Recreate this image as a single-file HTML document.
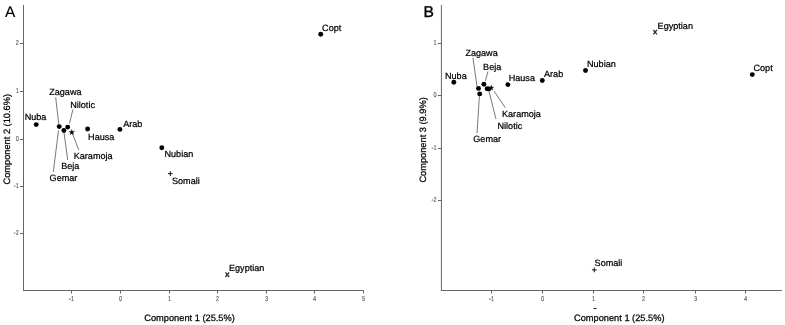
<!DOCTYPE html>
<html><head><meta charset="utf-8"><style>
html,body{margin:0;padding:0;background:#fff;}
svg{display:block;}
#w{width:785px;height:325px;filter:grayscale(1);}
text{font-family:"Liberation Sans",sans-serif;text-rendering:geometricPrecision;}
</style></head><body>
<div id="w"><svg width="785" height="325" viewBox="0 0 785 325">
<rect width="785" height="325" fill="#fff"/>
<line x1="23.5" y1="5" x2="23.5" y2="291.0" stroke="#666666" stroke-width="1.0"/>
<line x1="23.0" y1="290.5" x2="363.6" y2="290.5" stroke="#666666" stroke-width="1.0"/>
<line x1="20" y1="43.5" x2="23.5" y2="43.5" stroke="#666666" stroke-width="1.0"/>
<text x="0" y="0" font-size="7.0" fill="#5c5c5c" stroke="#5c5c5c" stroke-width="0.15" text-anchor="end" transform="translate(18.8,45.4) scale(0.8,1)">2</text>
<line x1="20" y1="91.5" x2="23.5" y2="91.5" stroke="#666666" stroke-width="1.0"/>
<text x="0" y="0" font-size="7.0" fill="#5c5c5c" stroke="#5c5c5c" stroke-width="0.15" text-anchor="end" transform="translate(18.8,93.4) scale(0.8,1)">1</text>
<line x1="20" y1="139.5" x2="23.5" y2="139.5" stroke="#666666" stroke-width="1.0"/>
<text x="0" y="0" font-size="7.0" fill="#5c5c5c" stroke="#5c5c5c" stroke-width="0.15" text-anchor="end" transform="translate(18.8,141.4) scale(0.8,1)">0</text>
<line x1="20" y1="186.5" x2="23.5" y2="186.5" stroke="#666666" stroke-width="1.0"/>
<text x="0" y="0" font-size="7.0" fill="#5c5c5c" stroke="#5c5c5c" stroke-width="0.15" text-anchor="end" transform="translate(18.8,188.4) scale(0.8,1)">-1</text>
<line x1="20" y1="233.5" x2="23.5" y2="233.5" stroke="#666666" stroke-width="1.0"/>
<text x="0" y="0" font-size="7.0" fill="#5c5c5c" stroke="#5c5c5c" stroke-width="0.15" text-anchor="end" transform="translate(18.8,235.4) scale(0.8,1)">-2</text>
<line x1="71.5" y1="290.5" x2="71.5" y2="293.6" stroke="#666666" stroke-width="1.0"/>
<text x="0" y="0" font-size="7.0" fill="#5c5c5c" stroke="#5c5c5c" stroke-width="0.15" text-anchor="middle" transform="translate(71.5,300.7) scale(0.8,1)">-1</text>
<line x1="120.5" y1="290.5" x2="120.5" y2="293.6" stroke="#666666" stroke-width="1.0"/>
<text x="0" y="0" font-size="7.0" fill="#5c5c5c" stroke="#5c5c5c" stroke-width="0.15" text-anchor="middle" transform="translate(120.5,300.7) scale(0.8,1)">0</text>
<line x1="169.5" y1="290.5" x2="169.5" y2="293.6" stroke="#666666" stroke-width="1.0"/>
<text x="0" y="0" font-size="7.0" fill="#5c5c5c" stroke="#5c5c5c" stroke-width="0.15" text-anchor="middle" transform="translate(169.5,300.7) scale(0.8,1)">1</text>
<line x1="217.5" y1="290.5" x2="217.5" y2="293.6" stroke="#666666" stroke-width="1.0"/>
<text x="0" y="0" font-size="7.0" fill="#5c5c5c" stroke="#5c5c5c" stroke-width="0.15" text-anchor="middle" transform="translate(217.5,300.7) scale(0.8,1)">2</text>
<line x1="266.5" y1="290.5" x2="266.5" y2="293.6" stroke="#666666" stroke-width="1.0"/>
<text x="0" y="0" font-size="7.0" fill="#5c5c5c" stroke="#5c5c5c" stroke-width="0.15" text-anchor="middle" transform="translate(266.5,300.7) scale(0.8,1)">3</text>
<line x1="314.5" y1="290.5" x2="314.5" y2="293.6" stroke="#666666" stroke-width="1.0"/>
<text x="0" y="0" font-size="7.0" fill="#5c5c5c" stroke="#5c5c5c" stroke-width="0.15" text-anchor="middle" transform="translate(314.5,300.7) scale(0.8,1)">4</text>
<line x1="363.5" y1="290.5" x2="363.5" y2="293.6" stroke="#666666" stroke-width="1.0"/>
<text x="0" y="0" font-size="7.0" fill="#5c5c5c" stroke="#5c5c5c" stroke-width="0.15" text-anchor="middle" transform="translate(363.5,300.7) scale(0.8,1)">5</text>
<text x="4.9" y="17.0" font-size="15.4" fill="#000" stroke="#000" stroke-width="0.12" text-anchor="start" >A</text>
<text x="144.3" y="321" font-size="9.25" fill="#000" stroke="#000" stroke-width="0.25" text-anchor="start" >Component 1 (25.5%)</text>
<text x="0" y="0" font-size="9.25" fill="#000" stroke="#000" stroke-width="0.25" transform="translate(9.8,184.5) rotate(-90)">Component 2 (10.6%)</text>
<circle cx="36.2" cy="124.6" r="2.45" fill="#000"/>
<text x="24.7" y="120.4" font-size="9.1" fill="#000" stroke="#000" stroke-width="0.22" text-anchor="start" >Nuba</text>
<line x1="55.7" y1="97.5" x2="58.8" y2="124.5" stroke="#555" stroke-width="0.8"/>
<text x="49.2" y="95.1" font-size="9.1" fill="#000" stroke="#000" stroke-width="0.22" text-anchor="start" >Zagawa</text>
<line x1="72.9" y1="109.5" x2="69.5" y2="123.6" stroke="#555" stroke-width="0.8"/>
<text x="70.2" y="107.5" font-size="9.1" fill="#000" stroke="#000" stroke-width="0.22" text-anchor="start" >Nilotic</text>
<line x1="58.5" y1="130.5" x2="53.3" y2="172" stroke="#555" stroke-width="0.8"/>
<text x="49.6" y="181.4" font-size="9.1" fill="#000" stroke="#000" stroke-width="0.22" text-anchor="start" >Gemar</text>
<line x1="64" y1="132.4" x2="67.7" y2="160" stroke="#555" stroke-width="0.8"/>
<text x="61.2" y="168.8" font-size="9.1" fill="#000" stroke="#000" stroke-width="0.22" text-anchor="start" >Beja</text>
<line x1="72.3" y1="133.3" x2="78.8" y2="150" stroke="#555" stroke-width="0.8"/>
<text x="73.7" y="158.8" font-size="9.1" fill="#000" stroke="#000" stroke-width="0.22" text-anchor="start" >Karamoja</text>
<circle cx="59.2" cy="126.6" r="2.45" fill="#000"/>
<circle cx="63.9" cy="130.5" r="2.45" fill="#000"/>
<circle cx="67.7" cy="127.1" r="2.45" fill="#000"/>
<polygon points="71.80,128.90 72.65,131.13 75.03,131.25 73.18,132.75 73.80,135.05 71.80,133.75 69.80,135.05 70.42,132.75 68.57,131.25 70.95,131.13" fill="#111"/>
<circle cx="87.6" cy="129" r="2.45" fill="#000"/>
<text x="88.1" y="140.3" font-size="9.1" fill="#000" stroke="#000" stroke-width="0.22" text-anchor="start" >Hausa</text>
<circle cx="119.9" cy="129.4" r="2.45" fill="#000"/>
<text x="123.2" y="127.4" font-size="9.1" fill="#000" stroke="#000" stroke-width="0.22" text-anchor="start" >Arab</text>
<circle cx="161.8" cy="147.7" r="2.45" fill="#000"/>
<text x="164.5" y="157.4" font-size="9.1" fill="#000" stroke="#000" stroke-width="0.22" text-anchor="start" >Nubian</text>
<line x1="167.9" y1="173.6" x2="172.70000000000002" y2="173.6" stroke="#1a1a1a" stroke-width="1.05"/>
<line x1="170.3" y1="171.2" x2="170.3" y2="176.0" stroke="#1a1a1a" stroke-width="1.05"/>
<text x="172" y="183.6" font-size="9.1" fill="#000" stroke="#000" stroke-width="0.22" text-anchor="start" >Somali</text>
<circle cx="320.7" cy="34.2" r="2.45" fill="#000"/>
<text x="322.1" y="30.5" font-size="9.1" fill="#000" stroke="#000" stroke-width="0.22" text-anchor="start" >Copt</text>
<line x1="225.5" y1="272.4" x2="229.10000000000002" y2="277.0" stroke="#2a2a2a" stroke-width="1.25"/>
<line x1="225.5" y1="277.0" x2="229.10000000000002" y2="272.4" stroke="#2a2a2a" stroke-width="1.25"/>
<text x="229" y="270.6" font-size="9.1" fill="#000" stroke="#000" stroke-width="0.22" text-anchor="start" >Egyptian</text>
<line x1="441.4" y1="5" x2="441.4" y2="291.0" stroke="#666666" stroke-width="1.0"/>
<line x1="440.9" y1="290.5" x2="782" y2="290.5" stroke="#666666" stroke-width="1.0"/>
<line x1="437.8" y1="43.5" x2="441.4" y2="43.5" stroke="#666666" stroke-width="1.0"/>
<text x="0" y="0" font-size="7.0" fill="#5c5c5c" stroke="#5c5c5c" stroke-width="0.15" text-anchor="end" transform="translate(436.6,45.4) scale(0.8,1)">1</text>
<line x1="437.8" y1="95.5" x2="441.4" y2="95.5" stroke="#666666" stroke-width="1.0"/>
<text x="0" y="0" font-size="7.0" fill="#5c5c5c" stroke="#5c5c5c" stroke-width="0.15" text-anchor="end" transform="translate(436.6,97.4) scale(0.8,1)">0</text>
<line x1="437.8" y1="148.5" x2="441.4" y2="148.5" stroke="#666666" stroke-width="1.0"/>
<text x="0" y="0" font-size="7.0" fill="#5c5c5c" stroke="#5c5c5c" stroke-width="0.15" text-anchor="end" transform="translate(436.6,150.4) scale(0.8,1)">-1</text>
<line x1="437.8" y1="200.5" x2="441.4" y2="200.5" stroke="#666666" stroke-width="1.0"/>
<text x="0" y="0" font-size="7.0" fill="#5c5c5c" stroke="#5c5c5c" stroke-width="0.15" text-anchor="end" transform="translate(436.6,202.4) scale(0.8,1)">-2</text>
<line x1="491.5" y1="290.5" x2="491.5" y2="293.6" stroke="#666666" stroke-width="1.0"/>
<text x="0" y="0" font-size="7.0" fill="#5c5c5c" stroke="#5c5c5c" stroke-width="0.15" text-anchor="middle" transform="translate(491.5,300.7) scale(0.8,1)">-1</text>
<line x1="542.5" y1="290.5" x2="542.5" y2="293.6" stroke="#666666" stroke-width="1.0"/>
<text x="0" y="0" font-size="7.0" fill="#5c5c5c" stroke="#5c5c5c" stroke-width="0.15" text-anchor="middle" transform="translate(542.5,300.7) scale(0.8,1)">0</text>
<line x1="593.5" y1="290.5" x2="593.5" y2="293.6" stroke="#666666" stroke-width="1.0"/>
<text x="0" y="0" font-size="7.0" fill="#5c5c5c" stroke="#5c5c5c" stroke-width="0.15" text-anchor="middle" transform="translate(593.5,300.7) scale(0.8,1)">1</text>
<line x1="643.5" y1="290.5" x2="643.5" y2="293.6" stroke="#666666" stroke-width="1.0"/>
<text x="0" y="0" font-size="7.0" fill="#5c5c5c" stroke="#5c5c5c" stroke-width="0.15" text-anchor="middle" transform="translate(643.5,300.7) scale(0.8,1)">2</text>
<line x1="695.5" y1="290.5" x2="695.5" y2="293.6" stroke="#666666" stroke-width="1.0"/>
<text x="0" y="0" font-size="7.0" fill="#5c5c5c" stroke="#5c5c5c" stroke-width="0.15" text-anchor="middle" transform="translate(695.5,300.7) scale(0.8,1)">3</text>
<line x1="745.5" y1="290.5" x2="745.5" y2="293.6" stroke="#666666" stroke-width="1.0"/>
<text x="0" y="0" font-size="7.0" fill="#5c5c5c" stroke="#5c5c5c" stroke-width="0.15" text-anchor="middle" transform="translate(745.5,300.7) scale(0.8,1)">4</text>
<text x="423.6" y="17.0" font-size="15.6" fill="#000" stroke="#000" stroke-width="0.35" text-anchor="start" >B</text>
<text x="574" y="321" font-size="9.25" fill="#000" stroke="#000" stroke-width="0.25" text-anchor="start" >Component 1 (25.5%)</text>
<text x="0" y="0" font-size="9.25" fill="#000" stroke="#000" stroke-width="0.25" transform="translate(425.8,182.6) rotate(-90)">Component 3 (9.9%)</text>
<line x1="593.5" y1="308.5" x2="596.6" y2="308.5" stroke="#222" stroke-width="1.1"/>
<circle cx="453.8" cy="82.3" r="2.45" fill="#000"/>
<text x="445.0" y="78.8" font-size="9.1" fill="#000" stroke="#000" stroke-width="0.22" text-anchor="start" >Nuba</text>
<line x1="472.9" y1="57.7" x2="477.0" y2="86.2" stroke="#555" stroke-width="0.8"/>
<text x="465.4" y="55.8" font-size="9.1" fill="#000" stroke="#000" stroke-width="0.22" text-anchor="start" >Zagawa</text>
<line x1="488" y1="71.5" x2="485.4" y2="80.8" stroke="#555" stroke-width="0.8"/>
<text x="483.1" y="69.6" font-size="9.1" fill="#000" stroke="#000" stroke-width="0.22" text-anchor="start" >Beja</text>
<line x1="479.4" y1="96" x2="477" y2="133.3" stroke="#555" stroke-width="0.8"/>
<text x="473.3" y="142.2" font-size="9.1" fill="#000" stroke="#000" stroke-width="0.22" text-anchor="start" >Gemar</text>
<line x1="488.6" y1="89.6" x2="496" y2="119.1" stroke="#555" stroke-width="0.8"/>
<text x="497.5" y="128.8" font-size="9.1" fill="#000" stroke="#000" stroke-width="0.22" text-anchor="start" >Nilotic</text>
<line x1="494.2" y1="91.2" x2="505.3" y2="107.8" stroke="#555" stroke-width="0.8"/>
<text x="502" y="117.1" font-size="9.1" fill="#000" stroke="#000" stroke-width="0.22" text-anchor="start" >Karamoja</text>
<circle cx="478.5" cy="88.4" r="2.45" fill="#000"/>
<circle cx="479.7" cy="93.9" r="2.45" fill="#000"/>
<circle cx="483.9" cy="84.2" r="2.45" fill="#000"/>
<circle cx="487.1" cy="88.7" r="2.45" fill="#000"/>
<circle cx="488.9" cy="88.9" r="2.45" fill="#000"/>
<polygon points="491.20,84.80 491.99,86.81 494.15,86.94 492.48,88.32 493.02,90.41 491.20,89.25 489.38,90.41 489.92,88.32 488.25,86.94 490.41,86.81" fill="#111"/>
<circle cx="507.9" cy="84.6" r="2.45" fill="#000"/>
<text x="508.7" y="81.3" font-size="9.1" fill="#000" stroke="#000" stroke-width="0.22" text-anchor="start" >Hausa</text>
<circle cx="542.3" cy="80.5" r="2.45" fill="#000"/>
<text x="544" y="76.7" font-size="9.1" fill="#000" stroke="#000" stroke-width="0.22" text-anchor="start" >Arab</text>
<circle cx="585.5" cy="70.5" r="2.45" fill="#000"/>
<text x="587.0" y="67.1" font-size="9.1" fill="#000" stroke="#000" stroke-width="0.22" text-anchor="start" >Nubian</text>
<line x1="653.3000000000001" y1="29.8" x2="656.9" y2="34.4" stroke="#2a2a2a" stroke-width="1.25"/>
<line x1="653.3000000000001" y1="34.4" x2="656.9" y2="29.8" stroke="#2a2a2a" stroke-width="1.25"/>
<text x="657.6" y="28.7" font-size="9.1" fill="#000" stroke="#000" stroke-width="0.22" text-anchor="start" >Egyptian</text>
<circle cx="752.3" cy="74.6" r="2.45" fill="#000"/>
<text x="753.5" y="71.3" font-size="9.1" fill="#000" stroke="#000" stroke-width="0.22" text-anchor="start" >Copt</text>
<line x1="591.9" y1="269.9" x2="596.6999999999999" y2="269.9" stroke="#1a1a1a" stroke-width="1.05"/>
<line x1="594.3" y1="267.5" x2="594.3" y2="272.29999999999995" stroke="#1a1a1a" stroke-width="1.05"/>
<text x="594.6" y="265.6" font-size="9.1" fill="#000" stroke="#000" stroke-width="0.22" text-anchor="start" >Somali</text>
</svg></div>
</body></html>
